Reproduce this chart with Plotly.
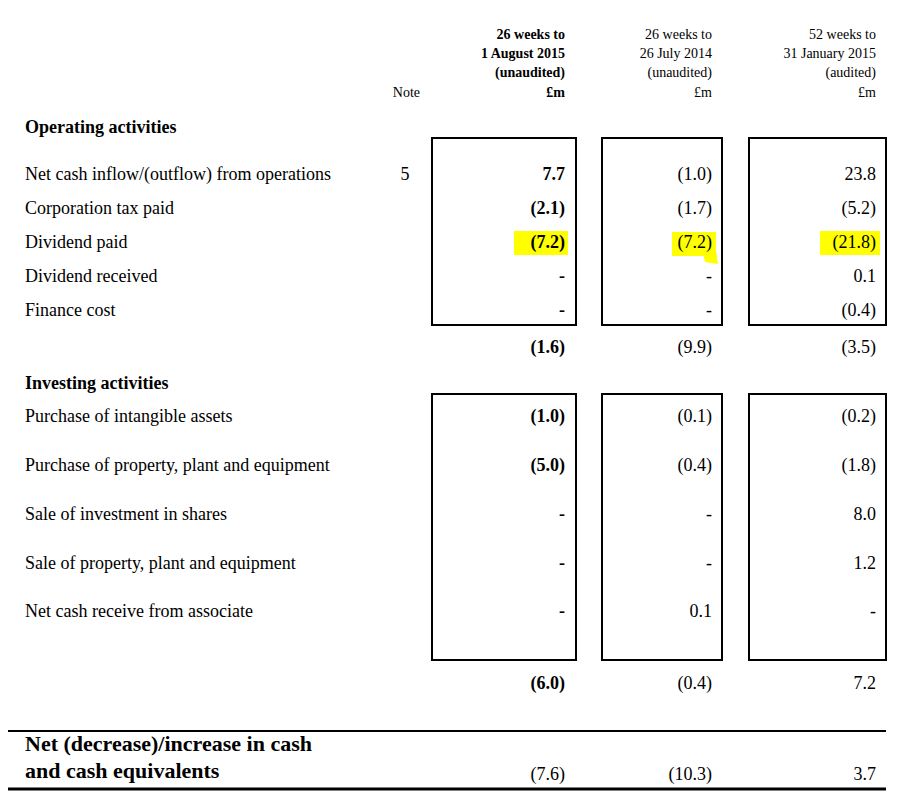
import plotly.graph_objects as go

# column headers
hdr_2015 = ["26 weeks to", "1 August 2015", "(unaudited)", "£m"]
hdr_2014 = ["26 weeks to", "26 July 2014", "(unaudited)", "£m"]
hdr_fy = ["52 weeks to", "31 January 2015", "(audited)", "£m"]

op_labels = ["Net cash inflow/(outflow) from operations", "Corporation tax paid",
             "Dividend paid", "Dividend received", "Finance cost"]
op_notes = ["5", "", "", "", ""]
op_2015 = ["7.7", "(2.1)", "(7.2)", "-", "-"]
op_2014 = ["(1.0)", "(1.7)", "(7.2)", "-", "-"]
op_fy = ["23.8", "(5.2)", "(21.8)", "0.1", "(0.4)"]
op_total = ["(1.6)", "(9.9)", "(3.5)"]

inv_labels = ["Purchase of intangible assets", "Purchase of property, plant and equipment",
              "Sale of investment in shares", "Sale of property, plant and equipment",
              "Net cash receive from associate"]
inv_2015 = ["(1.0)", "(5.0)", "-", "-", "-"]
inv_2014 = ["(0.1)", "(0.4)", "-", "-", "0.1"]
inv_fy = ["(0.2)", "(1.8)", "8.0", "1.2", "-"]
inv_total = ["(6.0)", "(0.4)", "7.2"]

net_label = ["Net (decrease)/increase in cash", "and cash equivalents"]
net_values = ["(7.6)", "(10.3)", "3.7"]

SERIF = "Liberation Serif"
col_x = [565, 712, 876]
box_x = [(432, 576), (602, 722), (749, 886)]
hdr_y = [35, 54, 73, 93]
op_y = [175, 209, 243, 277, 311]
inv_y = [417, 466, 515, 564, 612]

fig = go.Figure()


def txt(x, y, t, size=18, bold=False, pos="middle right"):
    t = ["<b>%s</b>" % s if (bold and s) else s for s in t]
    fig.add_trace(go.Scatter(x=x, y=y, text=t, mode="text", textposition=pos,
                             textfont=dict(family=SERIF, size=size, color="black"),
                             hoverinfo="skip", showlegend=False))


# highlights (behind text)
for (x0, x1, y0, y1) in [(514, 568, 231, 255), (672, 716, 232, 256), (820, 880, 231, 255)]:
    fig.add_shape(type="rect", x0=x0, x1=x1, y0=y0, y1=y1, fillcolor="#ffff00",
                  line=dict(width=0), layer="below")
fig.add_shape(type="path", path="M 700 240 L 716 250 L 718 264 L 705 262 Z",
              fillcolor="#ffff00", line=dict(width=0), layer="below")

# headers
txt([col_x[0]] * 4, hdr_y, hdr_2015, 14, True, "middle left")
txt([col_x[1]] * 4, hdr_y, hdr_2014, 14, False, "middle left")
txt([col_x[2]] * 4, hdr_y, hdr_fy, 14, False, "middle left")
txt([420], [93], ["Note"], 14, False, "middle left")

# section titles
txt([25], [128], ["Operating activities"], 18, True)
txt([25], [384], ["Investing activities"], 18, True)

# operating
txt([25] * 5, op_y, op_labels)
txt([405] * 5, op_y, op_notes, 18, False, "middle center")
txt([col_x[0]] * 5, op_y, op_2015, 18, True, "middle left")
txt([col_x[1]] * 5, op_y, op_2014, 18, False, "middle left")
txt([col_x[2]] * 5, op_y, op_fy, 18, False, "middle left")
txt(col_x[:1], [348], op_total[:1], 18, True, "middle left")
txt(col_x[1:], [348, 348], op_total[1:], 18, False, "middle left")

# investing
txt([25] * 5, inv_y, inv_labels)
txt([col_x[0]] * 5, inv_y, inv_2015, 18, True, "middle left")
txt([col_x[1]] * 5, inv_y, inv_2014, 18, False, "middle left")
txt([col_x[2]] * 5, inv_y, inv_fy, 18, False, "middle left")
txt(col_x[:1], [684], inv_total[:1], 18, True, "middle left")
txt(col_x[1:], [684, 684], inv_total[1:], 18, False, "middle left")

# net
txt([25, 25], [745, 772], net_label, 22, True)
txt(col_x, [775] * 3, net_values, 18, False, "middle left")

# boxes
for (x0, x1) in box_x:
    for (y0, y1) in [(138, 325), (394, 660)]:
        fig.add_shape(type="rect", x0=x0, x1=x1, y0=y0, y1=y1,
                      line=dict(color="black", width=2))

fig.add_shape(type="line", x0=7, x1=886, y0=731, y1=731, line=dict(color="black", width=2))
fig.add_shape(type="line", x0=7, x1=886, y0=789, y1=789, line=dict(color="black", width=3))

# page body has an 8px margin, so the plot area starts at (8, 8)
fig.update_layout(
    width=900, height=801, margin=dict(l=0, r=0, t=0, b=0),
    plot_bgcolor="white", paper_bgcolor="white",
    xaxis=dict(range=[8, 908], visible=False, fixedrange=True),
    yaxis=dict(range=[809, 8], visible=False, fixedrange=True),
)

fig.write_html("out.html")
